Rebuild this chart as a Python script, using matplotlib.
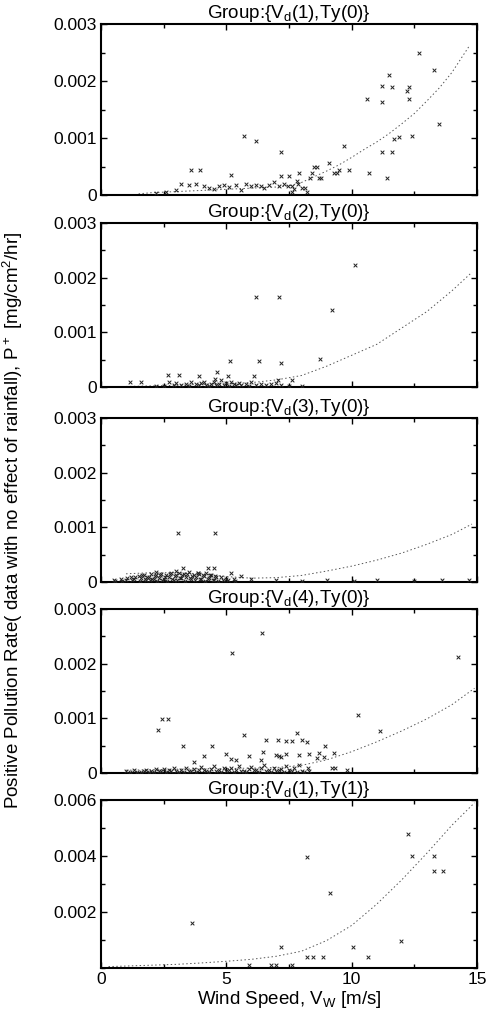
import numpy as np
import matplotlib
matplotlib.use("Agg")
import matplotlib.pyplot as plt
from matplotlib.ticker import MultipleLocator

plt.rcParams['font.family'] = ['Liberation Sans', 'DejaVu Sans']
plt.rcParams['mathtext.default'] = 'regular'

# ---------------- data (y values in units of 1e-4 mg/cm^2/hr) ----------------
titles = [r"Group:{V$_d$(1),Ty(0)}", r"Group:{V$_d$(2),Ty(0)}", r"Group:{V$_d$(3),Ty(0)}",
          r"Group:{V$_d$(4),Ty(0)}", r"Group:{V$_d$(1),Ty(1)}"]
ymax = [0.003, 0.003, 0.003, 0.003, 0.006]
y_major = [0.001, 0.001, 0.001, 0.001, 0.002]
x_ticks = [0, 5, 10, 15]

p1_x = [12.7, 13.3, 11.5, 11.2, 11.6, 12.3, 12.2, 12.3, 10.6, 11.2, 13.5, 5.7, 6.2, 12.4, 11.9, 11.2,
        11.6, 9.7, 7.2, 3.6, 3.95, 10.7, 9.4, 11.4, 9.5, 9.1, 8.6, 8.4, 8.7, 7.2, 7.5, 7.9, 5.2, 11.7,
        9.3, 8.76, 8.5, 9.9, 8.35, 7.87, 8.14, 7.45, 7.7,
        3.0, 3.2, 3.5, 3.8, 4.1, 4.3, 4.5, 4.7, 4.9, 5.1, 5.4, 5.6, 5.8, 6.0, 6.2, 6.4, 6.5, 6.7, 6.9,
        7.1, 7.3, 7.6, 7.8, 8.0, 8.2, 7.6, 2.6, 2.2]
p1_y = np.array([25, 22, 21, 19.1, 19, 19, 18.3, 16.8, 16.8, 16.3, 12.4, 10.4, 9.5, 10.4, 10.1, 7.6,
                 7.6, 8.6, 7.6, 4.3, 4.3, 3.8, 3.8, 3.0, 4.4, 5.6, 5.0, 3.8, 3.0, 3.3, 3.3, 3.8, 3.5, 9.9,
                 3.8, 2.9, 4.9, 4.4, 2.9, 2.0, 1.2, 1.5, 1.0,
                 0.8, 2.0, 1.7, 1.9, 1.5, 1.3, 1.0, 1.6, 1.8, 1.4, 1.7, 0.9, 1.9, 1.6, 1.8, 1.5, 1.2, 1.7,
                 2.2, 1.5, 1.9, 1.6, 2.4, 1.2, 0.6, 0.6, 0.5, 0.4]) * 1e-4
c1_x = [1.5, 2, 3, 4, 5, 6, 7, 7.5, 8, 8.5, 9, 9.5, 10, 10.5, 11, 11.5, 12, 12.5, 13, 13.5, 14, 14.7]
c1_y = np.array([0.2, 0.4, 0.6, 0.8, 1.0, 1.2, 1.4, 1.6, 2.2, 3.2, 4.2, 5.3, 6.6, 8.0, 9.3, 10.8,
                 12.5, 14.3, 16.5, 18.8, 21.5, 26.2]) * 1e-4

p2_x = [10.13, 6.17, 7.1, 9.23, 5.15, 6.3, 7.2, 8.73, 4.64, 6.1, 2.66, 3.12, 3.92, 5.05, 4.55, 1.16,
        1.58, 2.7, 7.07, 7.6,
        2.9, 3.0, 3.2, 3.4, 3.5, 3.6, 3.8, 3.9, 4.0, 4.1, 4.2, 4.3, 4.4, 4.5, 4.6, 4.7, 4.8, 4.9, 5.0,
        5.1, 5.2, 5.3, 5.4, 5.5, 5.6, 5.8, 5.9, 6.0, 6.2, 6.4, 6.6, 6.8, 7.0, 7.2, 7.5, 8.0, 2.5, 2.2]
p2_y = np.array([22.4, 16.4, 16.4, 14.1, 4.8, 4.8, 4.3, 5.1, 2.7, 2.1, 2.2, 2.2, 2.1, 2.1, 1.4, 1.0,
                 1.0, 1.0, 1.2, 1.3,
                 0.4, 0.8, 0.3, 0.6, 0.2, 0.9, 0.5, 0.3, 0.7, 1.0, 0.4, 0.2, 0.6, 0.9, 0.3, 0.5, 1.2,
                 0.4, 0.7, 0.2, 1.0, 0.5, 0.3, 0.8, 0.4, 0.6, 0.2, 0.9, 0.4, 0.6, 0.3, 0.5, 0.8, 0.4,
                 0.2, 0.2, 0.2, 0.1]) * 1e-4
c2_x = [1, 2, 3, 4, 5, 6, 7, 8, 9, 10, 11, 12, 13, 14, 14.8]
c2_y = np.array([0.1, 0.2, 0.3, 0.5, 0.6, 0.8, 1.3, 2.1, 3.8, 5.8, 7.8, 10.8, 13.8, 17.6, 21.0]) * 1e-4

p3_x = [3.08, 4.55, 3.28, 4.28, 4.5, 3.88, 2.2, 3.0, 5.2, 5.6, 6.0, 7.0, 8.0, 9.0, 10.1, 11.0, 12.5,
        13.6, 14.7,
        0.5, 0.8, 1.0, 1.2, 1.3, 1.5, 1.6, 1.7, 1.8, 1.9, 2.0, 2.1, 2.2, 2.3, 2.4, 2.5, 2.6, 2.7, 2.8,
        2.9, 3.0, 3.1, 3.2, 3.3, 3.4, 3.5, 3.6, 3.7, 3.8, 3.9, 4.0, 4.1, 4.2, 4.3, 4.4, 4.5, 4.6, 4.8,
        5.0, 5.3,
        0.55, 0.85, 1.05, 1.25, 1.35, 1.55, 1.65, 1.75, 1.85, 1.95, 2.05, 2.15, 2.25, 2.35, 2.45,
        2.55, 2.65, 2.75, 2.85, 2.95, 3.05, 3.15, 3.25, 3.35, 3.45, 3.55, 3.65, 3.75, 3.85, 3.95,
        4.05, 4.15, 4.25, 4.35, 4.45, 4.55, 4.65, 4.85, 5.05, 5.35]
p3_y = np.array([8.9, 8.9, 2.5, 2.5, 2.6, 1.7, 1.9, 2.1, 1.6, 1.1, 0.6, 0.3, 0.2, 0.3, 0.2, 0.3, 0.2,
                 0.4, 0.3,
                 0.3, 0.6, 0.4, 0.9, 0.5, 1.1, 0.7, 1.3, 0.4, 1.0, 1.4, 0.6, 1.2, 0.8, 1.5, 0.5, 1.3,
                 0.9, 1.6, 0.4, 1.2, 1.7, 0.7, 1.4, 1.0, 1.8, 0.6, 1.3, 0.9, 1.5, 0.5, 1.1, 1.6, 0.8,
                 1.2, 0.4, 0.9, 1.0, 0.6, 0.5,
                 0.1, 0.2, 0.8, 0.3, 1.0, 0.2, 1.2, 0.5, 0.9, 0.3, 0.6, 1.1, 0.2, 1.3, 0.4, 1.0, 0.2,
                 1.4, 0.6, 1.1, 0.3, 0.8, 1.3, 0.2, 1.5, 0.7, 1.1, 0.3, 1.6, 0.6, 1.2, 0.2, 0.5, 1.3,
                 0.3, 1.1, 0.2, 0.4, 0.3, 0.2]) * 1e-4
c3_x = [1, 2, 3, 4, 5, 6, 7, 8, 9, 10, 11, 12, 13, 14, 14.8]
c3_y = np.array([1.5, 1.7, 1.7, 1.5, 1.0, 0.7, 0.8, 1.2, 2.0, 2.9, 4.0, 5.3, 6.9, 8.7, 10.6]) * 1e-4

p4_x = [6.41, 5.21, 14.25, 10.26, 11.13, 2.42, 2.69, 2.26, 3.28, 4.44, 5.7, 7.8, 6.6, 7.05, 7.4, 7.6,
        8.0, 8.2, 8.93, 6.45, 7.0, 7.4, 7.9, 8.3, 8.7, 8.9, 9.3, 3.7, 4.1, 5.0, 5.2, 5.4, 5.9, 6.4,
        7.2, 7.1, 9.2, 9.33, 9.8, 8.25, 7.9, 8.6,
        1.0, 1.3, 1.6, 1.8, 2.0, 2.2, 2.4, 2.5, 2.7, 2.9, 3.0, 3.2, 3.4, 3.5, 3.7, 3.9, 4.0, 4.2,
        4.4, 4.5, 4.7, 4.9, 5.0, 5.2, 5.4, 5.5, 5.7, 5.9, 6.0, 6.2, 6.4, 6.5, 6.7, 6.9, 7.0, 7.2,
        7.4, 7.5, 7.7, 8.0, 8.3,
        1.15, 1.45, 1.7, 1.9, 2.1, 2.3, 2.6, 2.8, 3.1, 3.3, 3.6, 3.8, 4.1, 4.3, 4.6, 4.8, 5.1, 5.3,
        5.6, 5.8, 6.1, 6.3, 6.6, 6.8, 7.1, 7.3, 7.6, 7.8, 8.1]
p4_y = np.array([25.7, 22.0, 21.3, 10.6, 7.6, 9.8, 9.8, 7.9, 5.0, 5.0, 6.9, 7.4, 6.0, 6.0, 5.8, 5.8,
                 6.0, 5.6, 5.0, 3.9, 3.3, 3.4, 3.3, 3.4, 3.6, 3.0, 3.6, 2.1, 3.1, 3.4, 2.5, 2.4, 3.1,
                 2.4, 2.9, 3.1, 1.0, 1.0, 0.6, 1.0, 1.4, 2.7,
                 0.3, 0.5, 0.2, 0.6, 0.4, 0.8, 0.3, 0.7, 0.5, 0.9, 0.3, 0.6, 1.0, 0.4, 0.8, 0.5, 1.1,
                 0.3, 0.7, 1.2, 0.5, 0.9, 0.4, 1.0, 0.6, 1.3, 0.4, 0.8, 1.1, 0.5, 0.9, 1.4, 0.6, 1.0,
                 0.3, 0.8, 1.2, 0.5, 0.9, 0.4, 0.3,
                 0.1, 0.2, 0.4, 0.1, 0.2, 0.3, 0.1, 0.4, 0.2, 0.1, 0.3, 0.2, 0.5, 0.1, 0.3, 0.2, 0.6,
                 0.1, 0.3, 0.2, 0.5, 0.1, 0.4, 0.2, 0.6, 0.1, 0.3, 0.2, 0.1]) * 1e-4
c4_x = [1, 2, 3, 4, 5, 6, 7, 8, 9, 10, 11, 12, 13, 14, 14.9]
c4_y = np.array([0.5, 0.6, 0.7, 0.8, 0.8, 0.9, 1.0, 1.4, 2.4, 3.9, 5.7, 7.7, 9.9, 12.5, 15.5]) * 1e-4

p5_x = [12.26, 8.2, 12.39, 13.3, 13.3, 13.63, 9.13, 3.64, 11.95, 7.2, 10.04, 8.2, 8.47, 8.87, 10.66,
        7.0, 5.9, 7.6, 6.8]
p5_y = np.array([47.7, 39.8, 40.1, 40.0, 34.6, 34.6, 26.7, 16.0, 9.8, 7.4, 7.4, 4.0, 4.0, 4.0, 4.0,
                 1.2, 1.2, 1.2, 1.0]) * 1e-4
c5_x = [0.3, 1, 2, 3, 4, 5, 6, 7, 8, 9, 10, 11, 12, 13, 14, 14.9]
c5_y = np.array([0.5, 0.7, 1.0, 1.3, 1.8, 2.4, 3.1, 4.2, 6.0, 9.8, 15.2, 22.8, 31.5, 41.0, 51.0,
                 59.0]) * 1e-4

points = [(p1_x, p1_y), (p2_x, p2_y), (p3_x, p3_y), (p4_x, p4_y), (p5_x, p5_y)]
curves = [(c1_x, c1_y), (c2_x, c2_y), (c3_x, c3_y), (c4_x, c4_y), (c5_x, c5_y)]

# ---------------- figure ----------------
W, H = 498, 1015
fig = plt.figure(figsize=(W / 100, H / 100), dpi=100)
# (top, bottom) pixel extents of each panel
extents = [(24, 195), (223, 387), (418, 582), (609, 773), (800, 968)]
left_px, right_px = 101, 477

for i, (top, bot) in enumerate(extents):
    ax = fig.add_axes([left_px / W, 1 - bot / H, (right_px - left_px) / W, (bot - top) / H])
    px, py = points[i]
    cx, cy = curves[i]
    ax.plot(cx, cy, color='#555555', lw=0.7, ls=(0, (1.5, 2.5)), zorder=2)
    ax.scatter(px, py, marker='x', s=7, linewidths=0.7, color='#222222', zorder=3)
    ax.set_xlim(0, 15)
    ax.set_ylim(0, ymax[i])
    ax.xaxis.set_major_locator(MultipleLocator(5))
    ax.xaxis.set_minor_locator(MultipleLocator(2.5))
    ax.yaxis.set_major_locator(MultipleLocator(y_major[i]))
    ax.yaxis.set_minor_locator(MultipleLocator(y_major[i] / 2))
    ax.tick_params(which='both', direction='in', top=True, right=True, labelsize=12.5, width=1,
                   pad=3)
    ax.tick_params(which='major', length=4)
    ax.tick_params(which='minor', length=3)
    for s in ax.spines.values():
        s.set_linewidth(1.5)
    if i < 4:
        ax.set_yticks([0, 0.001, 0.002, 0.003])
        ax.set_yticklabels(['0', '0.001', '0.002', '0.003'])
        ax.set_xticklabels([])
    else:
        ax.set_yticks([0.002, 0.004, 0.006])
        ax.set_yticklabels(['0.002', '0.004', '0.006'])
        ax.set_xticks(x_ticks)
        ax.set_xticklabels([str(t) for t in x_ticks])
        ax.set_xlabel(r"Wind Speed, V$_W$ [m/s]", fontsize=13.5, labelpad=1)
    ax.set_title(titles[i], fontsize=13.5, pad=1)

fig.text(13 / W, 1 - 520 / H,
         r"Positive Pollution Rate( data with no effect of rainfall), P$^+$ [mg/cm$^2$/hr]",
         rotation=90, ha='center', va='center', fontsize=13.5)

fig.savefig("out.png", dpi=100)
